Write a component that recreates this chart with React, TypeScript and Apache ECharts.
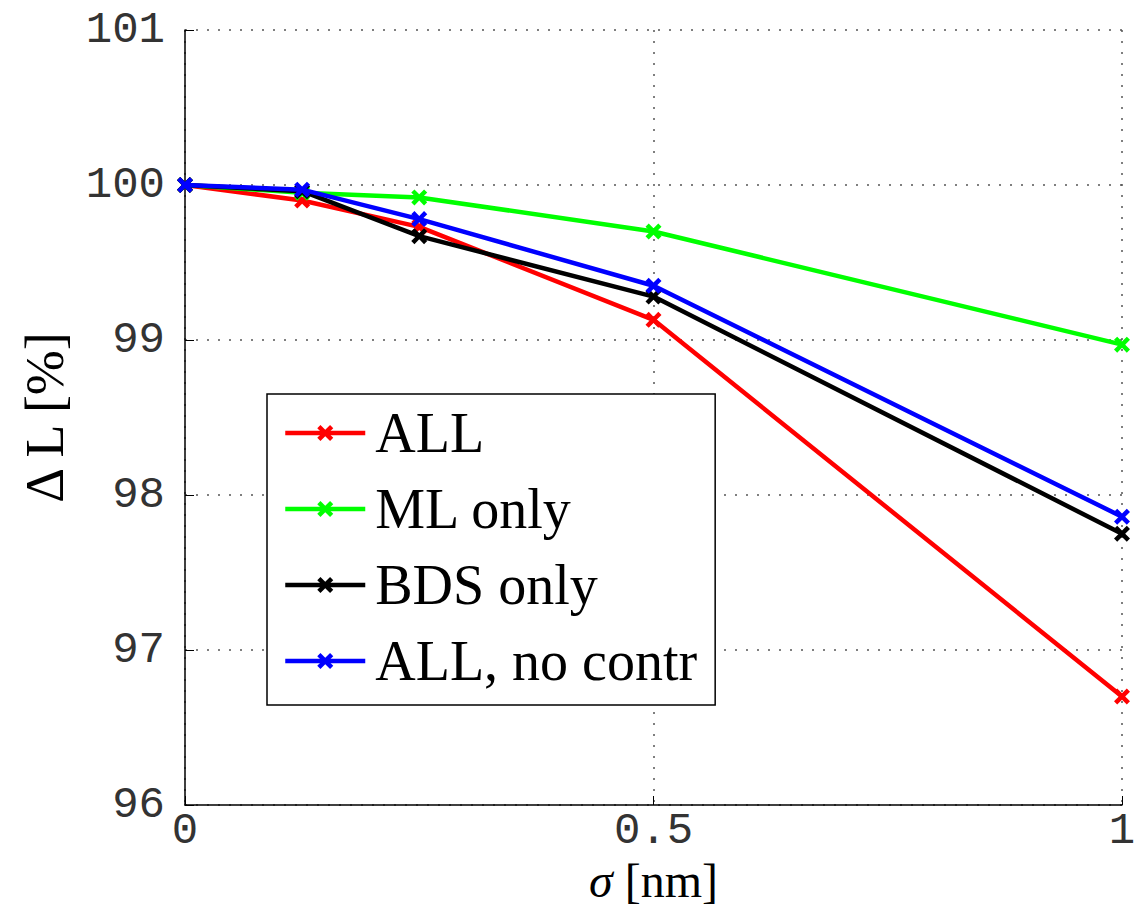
import React, { useEffect, useRef } from "react";
import * as echarts from "echarts";

const sigma = [0, 0.125, 0.25, 0.5, 1];
const allValues = [100, 99.9, 99.73, 99.13, 96.7];
const mlOnly = [100, 99.95, 99.92, 99.7, 98.97];
const bdsOnly = [100, 99.96, 99.67, 99.28, 97.75];
const allNoContr = [100, 99.97, 99.78, 99.35, 97.86];
const seriesNames = ["ALL", "ML only", "BDS only", "ALL, no contr"];
const seriesColors = ["#ff0000", "#00ff00", "#000000", "#0000ff"];
const yTicks = [96, 97, 98, 99, 100, 101];
const xTicks = [0, 0.5, 1];

const X_MARK =
  "path://M0,2 L2,0 L5,3 L8,0 L10,2 L7,5 L10,8 L8,10 L5,7 L2,10 L0,8 L3,5 Z";

export default function App() {
  const ref = useRef<HTMLDivElement>(null);
  useEffect(() => {
    if (!ref.current) return;
    const chart = echarts.init(ref.current, undefined, { renderer: "svg" });
    const data = [allValues, mlOnly, bdsOnly, allNoContr];
    const serif = "Liberation Serif";
    const mono = "Liberation Mono";
    chart.setOption({
      animation: false,
      backgroundColor: "#ffffff",
      grid: {
        left: 185,
        right: 14,
        top: 30,
        bottom: 107,
        containLabel: false,
        outerBoundsMode: "none",
      },
      legend: {
        orient: "vertical",
        left: 267,
        top: 394,
        backgroundColor: "#ffffff",
        borderColor: "#000000",
        borderWidth: 1.5,
        borderRadius: 0,
        padding: [9, 18, 14, 16],
        itemGap: 16,
        itemWidth: 80,
        itemHeight: 20,
        data: seriesNames,
        lineStyle: { width: 4.5 },
        textStyle: {
          fontFamily: serif,
          fontSize: 56,
          color: "#000",
          lineHeight: 60,
          padding: [0, 0, 0, 5],
        },
      },
      xAxis: {
        type: "value",
        min: 0,
        max: 1,
        interval: 0.5,
        name: "{i|σ} [nm]",
        nameLocation: "middle",
        nameGap: 51,
        nameMoveOverlap: false,
        nameTextStyle: {
          fontFamily: serif,
          fontSize: 48,
          lineHeight: 48,
          color: "#000",
          rich: {
            i: {
              fontFamily: serif,
              fontStyle: "italic",
              fontSize: 48,
              lineHeight: 48,
              color: "#000",
            },
          },
        },
        axisLine: { show: true, onZero: false, lineStyle: { color: "#000", width: 1.5 } },
        axisTick: { show: true, inside: true, length: 9, lineStyle: { color: "#000", width: 1 } },
        axisLabel: {
          fontFamily: mono,
          fontSize: 44,
          lineHeight: 40,
          color: "#333",
          margin: 6,
          formatter: (v: number) => (xTicks.indexOf(v) >= 0 ? String(v) : ""),
        },
        splitLine: {
          show: true,
          lineStyle: { color: "#555", width: 1.5, type: [2, 9] },
        },
      },
      yAxis: {
        type: "value",
        min: yTicks[0],
        max: yTicks[yTicks.length - 1],
        interval: 1,
        name: "Δ L [%]",
        nameLocation: "middle",
        nameGap: 113,
        nameRotate: 90,
        nameMoveOverlap: false,
        nameTextStyle: { fontFamily: serif, fontSize: 54, color: "#000" },
        axisLine: { show: true, onZero: false, lineStyle: { color: "#000", width: 1.5 } },
        axisTick: { show: true, inside: true, length: 9, lineStyle: { color: "#000", width: 1 } },
        axisLabel: {
          fontFamily: mono,
          fontSize: 44,
          color: "#333",
          margin: 20,
        },
        splitLine: {
          show: true,
          lineStyle: { color: "#555", width: 1.5, type: [2, 9] },
        },
      },
      series: seriesNames.map((name, i) => ({
        name,
        type: "line",
        data: sigma.map((s, j) => [s, data[i][j]]),
        symbol: X_MARK,
        symbolSize: 16,
        showSymbol: true,
        color: seriesColors[i],
        lineStyle: { color: seriesColors[i], width: 4.5 },
        itemStyle: { color: seriesColors[i] },
        z: 2 + i,
      })),
    });
    return () => chart.dispose();
  }, []);
  return (
    <div
      ref={ref}
      style={{ position: "fixed", left: 0, top: 0, width: 1136, height: 912 }}
    />
  );
}
